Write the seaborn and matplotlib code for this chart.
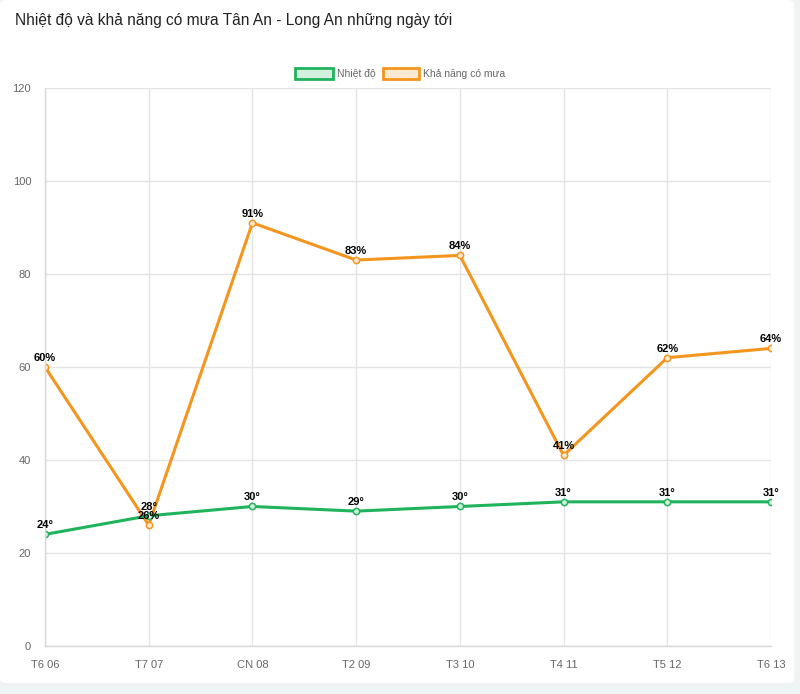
import matplotlib
matplotlib.use("Agg")
import matplotlib.pyplot as plt
import seaborn as sns
import pandas as pd
from matplotlib.patches import Rectangle, FancyBboxPatch

days = ["T6 06", "T7 07", "CN 08", "T2 09", "T3 10", "T4 11", "T5 12", "T6 13"]
temp = [24, 28, 30, 29, 30, 31, 31, 31]
rain = [60, 26, 91, 83, 84, 41, 62, 64]
yticks = [0, 20, 40, 60, 80, 100, 120]
title = "Nhiệt độ và khả năng có mưa Tân An - Long An những ngày tới"
series_names = ["Nhiệt độ", "Khả năng có mưa"]

sns.set_theme(style="white")
plt.rcParams['font.family'] = ['Liberation Sans', 'DejaVu Sans']

green = "#1fb45c"
orange = "#f4951e"

fig = plt.figure(figsize=(8, 6.94), dpi=100)
fig.patch.set_facecolor("#eef3f3")
card = FancyBboxPatch((0.0, 0.016), 0.993, 0.984, boxstyle="round,pad=0,rounding_size=0.008",
                      transform=fig.transFigure, facecolor="white", edgecolor="none", zorder=-10)
fig.add_artist(card)

ax = fig.add_axes([0.05625, 0.0692, 0.9075, 0.804])
ax.set_facecolor("white")
ax.set_zorder(1)

df = pd.DataFrame({"day": days, "temp": temp, "rain": rain})
sns.lineplot(data=df, x="day", y="rain", sort=False, color=orange, linewidth=2.2, ax=ax,
             marker="o", markersize=4.5, markerfacecolor="#fde9d2", markeredgecolor=orange, markeredgewidth=1.1)
sns.lineplot(data=df, x="day", y="temp", sort=False, color=green, linewidth=2.2, ax=ax,
             marker="o", markersize=4.5, markerfacecolor="#d2f0de", markeredgecolor=green, markeredgewidth=1.1)

for i, (t, r) in enumerate(zip(temp, rain)):
    ax.annotate(f"{r}%", (i, r), xytext=(0, 3), textcoords="offset points", ha="center", va="bottom",
                fontsize=8, color="black", fontweight="bold", annotation_clip=False)
    ax.annotate(f"{t}°", (i, t), xytext=(0, 3), textcoords="offset points", ha="center", va="bottom",
                fontsize=8, color="black", fontweight="bold", annotation_clip=False)

ax.set_ylim(0, 120)
ax.set_xlim(0, len(days) - 1)
ax.set_yticks(yticks)
ax.set_xticks(range(len(days)))
ax.set_xticklabels(days)
ax.set_xlabel("")
ax.set_ylabel("")
ax.grid(True, color="#e4e4e4", linewidth=1)
ax.set_axisbelow(True)
for s in ["top", "right"]:
    ax.spines[s].set_visible(False)
for s in ["left", "bottom"]:
    ax.spines[s].set_color("#d8d8d8")
    ax.spines[s].set_linewidth(1)
ax.tick_params(axis="both", colors="#d8d8d8", labelcolor="#666666", labelsize=8, length=7, width=1, pad=3)

fig.text(0.019, 0.971, title, fontsize=11.2, color="#222222", ha="left", va="center")

# legend
ly = 0.894
lh = 0.015
fig.add_artist(Rectangle((0.369, ly - lh/2), 0.047, lh, transform=fig.transFigure,
                         facecolor="#d2f0de", edgecolor=green, linewidth=2))
fig.text(0.421, ly, series_names[0], fontsize=7.5, color="#666666", va="center", ha="left")
fig.add_artist(Rectangle((0.479, ly - lh/2), 0.045, lh, transform=fig.transFigure,
                         facecolor="#fde9d2", edgecolor=orange, linewidth=2))
fig.text(0.529, ly, series_names[1], fontsize=7.5, color="#666666", va="center", ha="left")

fig.savefig("out.png", dpi=100, facecolor=fig.get_facecolor())
